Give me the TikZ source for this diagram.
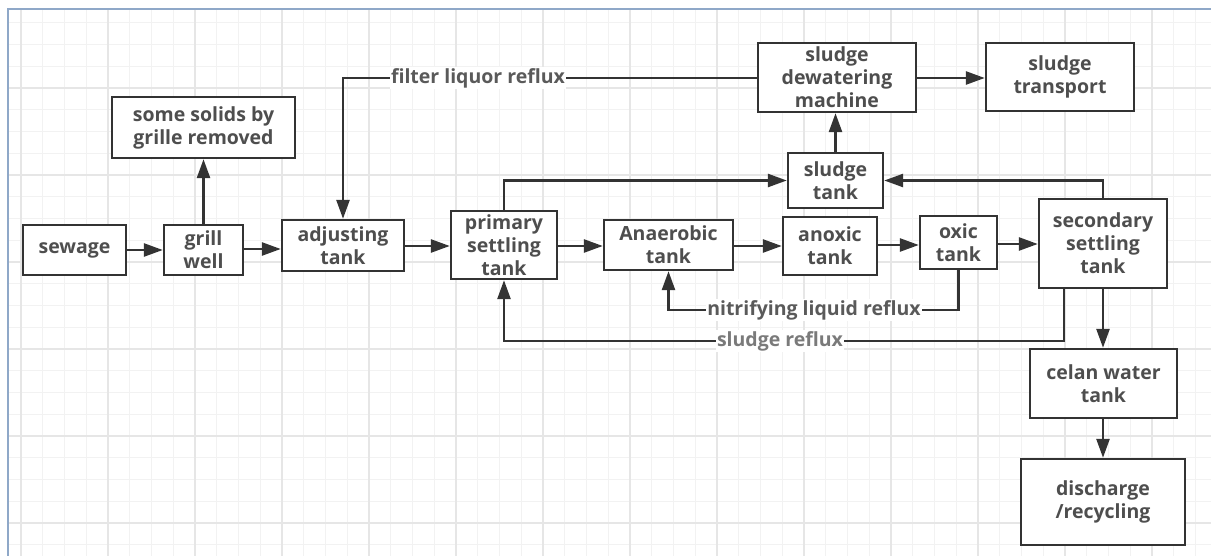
\documentclass[tikz,border=0pt]{standalone}
\usepackage{fontspec}
\setmainfont{Open Sans}
\usetikzlibrary{arrows.meta}
\definecolor{txt}{HTML}{4E4E4E}
\definecolor{ln}{HTML}{333333}
\definecolor{lbltxt}{HTML}{5A5A5A}
\definecolor{lbltxtb}{HTML}{7A7A7A}
\definecolor{gridminor}{HTML}{F2F2F2}
\definecolor{gridmajor}{HTML}{E6E6E6}
\definecolor{frameblue}{HTML}{8FA8C8}
\begin{document}
\begin{tikzpicture}[x=1pt,y=-1pt,
  box/.style={draw=ln, line width=2.4pt, fill=white, align=center,
    font=\fontsize{19.5}{23}\selectfont\bfseries, text=txt, inner sep=0pt},
  arr/.style={draw=ln, line width=2.6pt, -{Triangle[length=19pt,width=13pt]}},
  lbl/.style={fill=white, font=\fontsize{19.5}{23}\selectfont\bfseries, text=lbltxt, inner sep=1.5pt},
  gminor/.style={draw=gridminor, line width=1pt},
  gmajor/.style={draw=gridmajor, line width=1.2pt}]
\useasboundingbox (0,0) rectangle (1211,556);
\fill[white] (0,0) rectangle (1211,556);
% grid
\foreach \k [evaluate=\k as \x using 21+21.75*\k] in {0,...,54}
  \draw[gminor] (\x,10) -- (\x,556);
\foreach \k [evaluate=\k as \y using 1+21.75*\k] in {1,...,25}
  \draw[gminor] (8,\y) -- (1211,\y);
\foreach \k [evaluate=\k as \x using 21+21.75*\k] in {0,4,...,52}
  \draw[gmajor] (\x,10) -- (\x,556);
\foreach \k [evaluate=\k as \y using 1+21.75*\k] in {4,8,...,24}
  \draw[gmajor] (8,\y) -- (1211,\y);
% frame
\draw[frameblue, line width=2pt] (7.5,556) -- (7.5,9.5) -- (1211,9.5);

% nodes
\node[box, minimum width=103pt, minimum height=50pt] (sewage) at (74.5,250) {sewage};
\node[box, minimum width=79pt, minimum height=50pt] (grill) at (203.5,250) {grill\\well};
\node[box, minimum width=183pt, minimum height=61pt] (solids) at (203.5,127.5) {some solids by\\grille removed};
\node[box, minimum width=122pt, minimum height=51pt] (adjusting) at (343,245.5) {adjusting\\tank};
\node[box, minimum width=106pt, minimum height=68pt] (primary) at (504,245) {primary\\settling\\tank};
\node[box, minimum width=129pt, minimum height=50pt] (anaerobic) at (668.5,245) {Anaerobic\\tank};
\node[box, minimum width=94pt, minimum height=58pt] (anoxic) at (830,246) {anoxic\\tank};
\node[box, minimum width=77pt, minimum height=53pt] (oxic) at (958.5,242.5) {oxic\\tank};
\node[box, minimum width=128pt, minimum height=89pt] (secondary) at (1103,243.5) {secondary\\settling\\tank};
\node[box, minimum width=147pt, minimum height=69pt] (celan) at (1103.5,383.5) {celan water\\tank};
\node[box, minimum width=164pt, minimum height=86pt] (discharge) at (1103,502) {discharge\\/recycling};
\node[box, minimum width=95pt, minimum height=55pt] (stank) at (835.5,180.5) {sludge\\tank};
\node[box, minimum width=158pt, minimum height=69pt] (dewater) at (837,77.5) {sludge\\dewatering\\machine};
\node[box, minimum width=148pt, minimum height=68pt] (transport) at (1060,77) {sludge\\transport};

% main flow
\draw[arr] (sewage) -- (grill);
\draw[arr] (grill.east |- 0,249) -- (adjusting.west |- 0,249);
\draw[arr] (grill.north) -- (solids.south);
\draw[arr] (adjusting.east |- 0,246) -- (primary.west |- 0,246);
\draw[arr] (primary.east |- 0,246) -- (anaerobic.west |- 0,246);
\draw[arr] (anaerobic.east |- 0,246) -- (anoxic.west |- 0,246);
\draw[arr] (anoxic.east |- 0,245) -- (oxic.west |- 0,245);
\draw[arr] (oxic.east |- 0,244) -- (secondary.west |- 0,244);
% sludge lines
\draw[arr] (primary.north) |- (stank.west);
\draw[arr] (secondary.north) |- (stank.east);
\draw[arr] (stank.north) -- (stank.north |- dewater.south);
\draw[arr] (dewater.east |- 0,78) -- (transport.west |- 0,78);
% filter liquor reflux
\draw[arr] (dewater.west |- 0,78) -| (adjusting.north);
\node[lbl] (filterlbl) at (478,78) {filter liquor reflux};
% nitrifying liquid reflux
\draw[arr] (oxic.south) |- (anaerobic.south |- 0,310) -- (anaerobic.south);
\node[lbl] (nitlbl) at (814,310) {nitrifying liquid reflux};
% sludge reflux
\draw[arr] (secondary.south -| 1064,0) |- (primary.south |- 0,341) -- (primary.south);
\node[lbl, text=lbltxtb] (srlbl) at (780,341) {sludge reflux};
% outflow
\draw[arr] (secondary.south) -- (secondary.south |- celan.north);
\draw[arr] (celan.south -| secondary.south) -- (secondary.south |- discharge.north);
\end{tikzpicture}
\end{document}
